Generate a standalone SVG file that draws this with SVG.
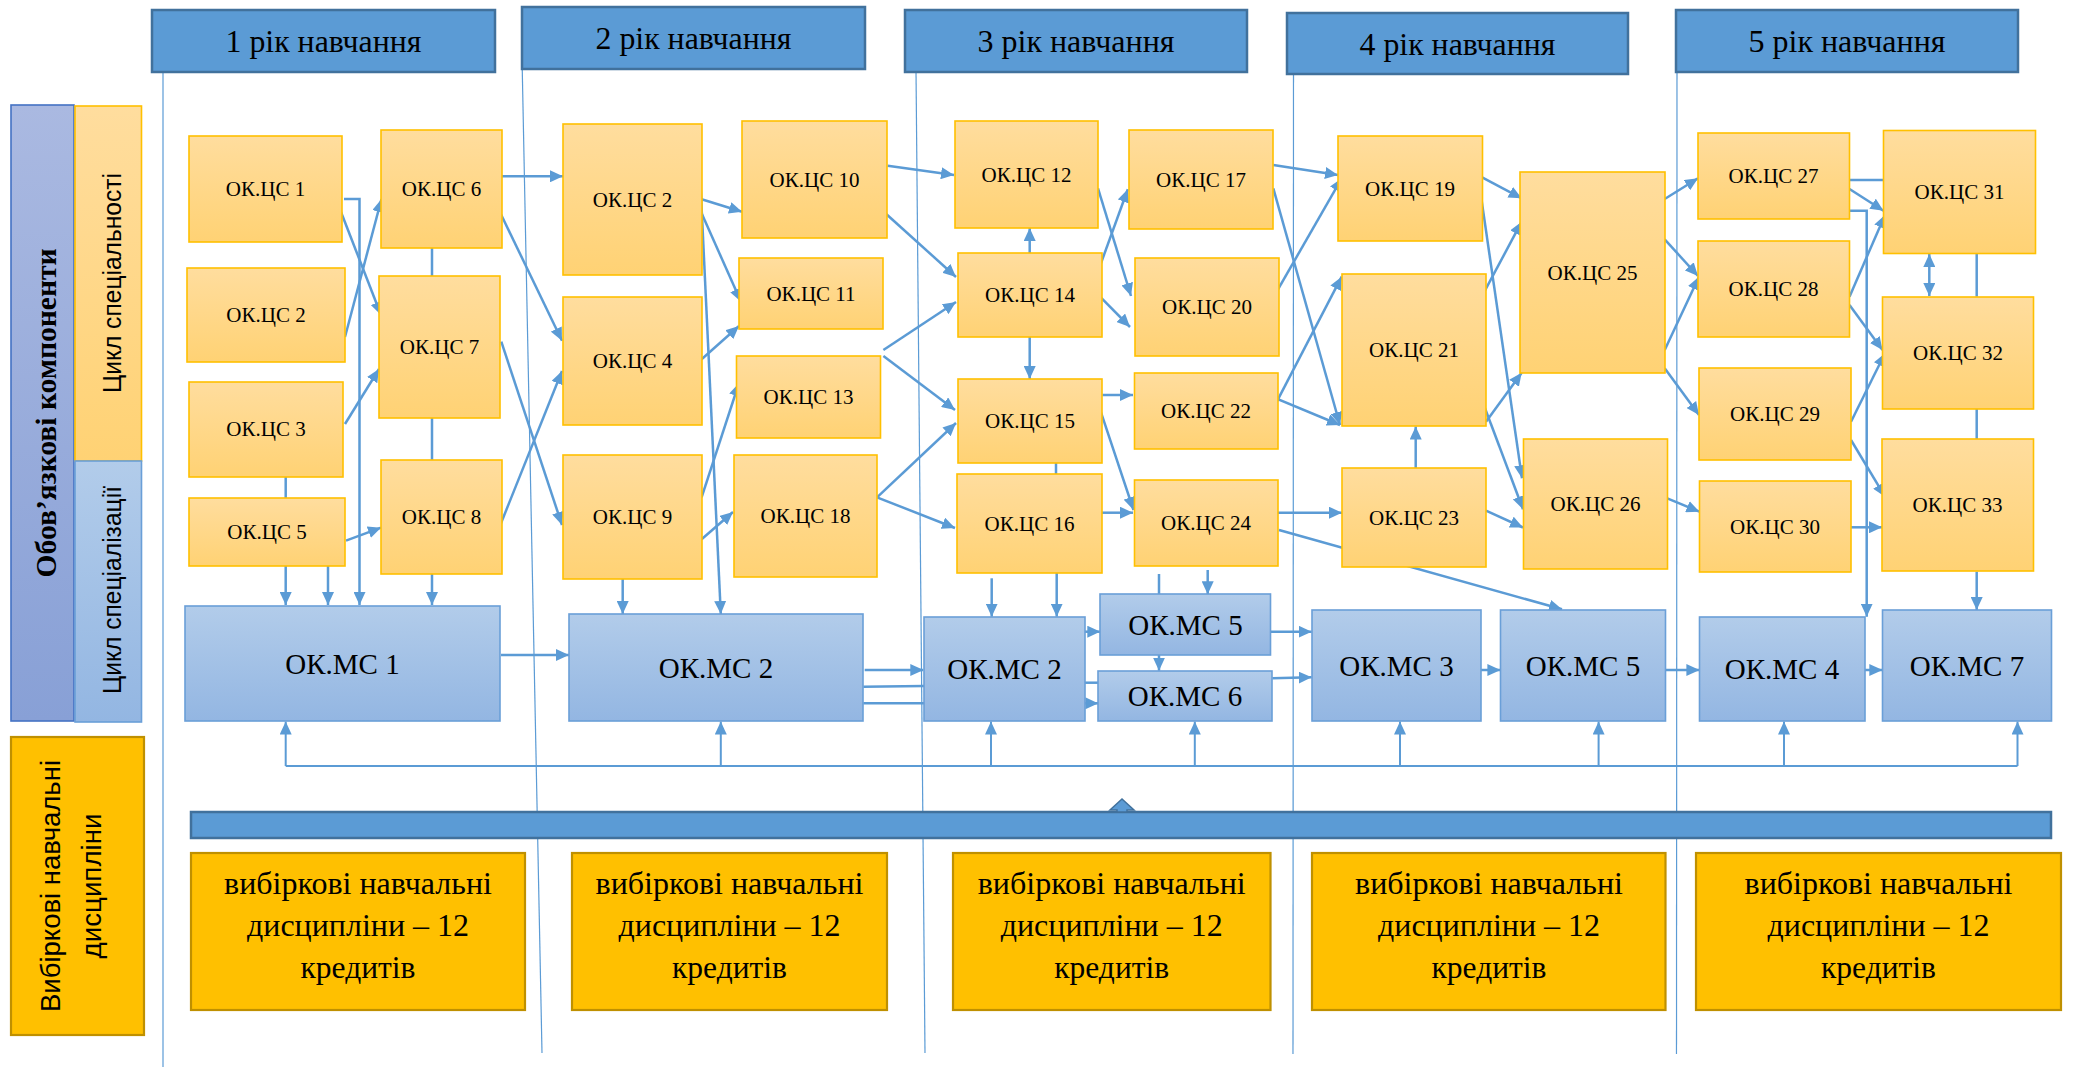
<svg xmlns="http://www.w3.org/2000/svg" width="2073" height="1069" viewBox="0 0 2073 1069">
<style>
.bg{fill:#ffffff}
.col{stroke:#5B9BD5;stroke-width:1.2;fill:none}
.hdr{fill:#5B9BD5;stroke:#41719C;stroke-width:2.5}
.cs{fill:url(#gO);stroke:#FFC000;stroke-width:1.6}
.mc{fill:url(#gB);stroke:#6A9FD8;stroke-width:1.6}
.el{fill:#FFC000;stroke:#BF9000;stroke-width:2.2}
.t{font-family:"Liberation Serif","Times New Roman",serif;fill:#000;text-anchor:middle}
.t21{font-size:21px}
.t29{font-size:29px}
.t31{font-size:31px}
.t32{font-size:32px}
.s{font-family:"Liberation Sans",Arial,sans-serif;fill:#000;text-anchor:middle}
.c{stroke:#5B9BD5;stroke-width:2.5;fill:none}
.a{marker-end:url(#ah)}
.fb{stroke:#5B9BD5;stroke-width:2;fill:none}
</style>
<defs>
<linearGradient id="gO" x1="0" y1="0" x2="0" y2="1"><stop offset="0" stop-color="#FFDD9E"/><stop offset="1" stop-color="#FFD274"/></linearGradient>
<linearGradient id="gB" x1="0" y1="0" x2="0" y2="1"><stop offset="0" stop-color="#B2CCEA"/><stop offset="1" stop-color="#93B6E2"/></linearGradient>
<linearGradient id="gP" x1="0" y1="0" x2="0" y2="1"><stop offset="0" stop-color="#AAB9E1"/><stop offset="1" stop-color="#88A0D6"/></linearGradient>
<marker id="ah" viewBox="0 0 13 12" refX="13" refY="6" markerWidth="13" markerHeight="12" markerUnits="userSpaceOnUse" orient="auto"><path d="M0,0 L13,6 L0,12 z" fill="#5B9BD5"/></marker>
<marker id="ah2" viewBox="0 0 13 12" refX="13" refY="6" markerWidth="13" markerHeight="12" markerUnits="userSpaceOnUse" orient="auto-start-reverse"><path d="M0,0 L13,6 L0,12 z" fill="#5B9BD5"/></marker>
</defs>
<rect class="bg" x="0" y="0" width="2073" height="1069"/>

<g id="columns">
<line class="col" x1="163" y1="72" x2="163" y2="1067"/>
<line class="col" x1="522" y1="57" x2="542" y2="1053"/>
<line class="col" x1="916" y1="70" x2="925" y2="1053"/>
<line class="col" x1="1293.5" y1="75" x2="1293" y2="1054"/>
<line class="col" x1="1677" y1="72" x2="1676.5" y2="1054"/>
</g>

<g id="headers">
<g id="year1"><rect class="hdr" x="152" y="10" width="343" height="62"/><text class="t t32" x="323.5" y="52" textLength="196" lengthAdjust="spacingAndGlyphs">1 рік навчання</text></g>
<g id="year2"><rect class="hdr" x="522" y="7" width="343" height="62"/><text class="t t32" x="693.5" y="49" textLength="196" lengthAdjust="spacingAndGlyphs">2 рік навчання</text></g>
<g id="year3"><rect class="hdr" x="905" y="10" width="342" height="62"/><text class="t t32" x="1076" y="52" textLength="197" lengthAdjust="spacingAndGlyphs">3 рік навчання</text></g>
<g id="year4"><rect class="hdr" x="1287" y="13" width="341" height="61"/><text class="t t32" x="1457.5" y="54.5" textLength="196" lengthAdjust="spacingAndGlyphs">4 рік навчання</text></g>
<g id="year5"><rect class="hdr" x="1676" y="10" width="342" height="62"/><text class="t t32" x="1847" y="52" textLength="197" lengthAdjust="spacingAndGlyphs">5 рік навчання</text></g>
</g>

<g id="side-labels">
<g id="obov"><rect x="11" y="105" width="63" height="616" fill="url(#gP)" stroke="#4472C4" stroke-width="1.6"/><text class="t" font-size="29" font-weight="bold" transform="translate(56,413) rotate(-90)" x="0" y="0" textLength="329" lengthAdjust="spacingAndGlyphs">Обов’язкові компоненти</text></g>
<g id="cycle-spec"><rect class="cs" x="75" y="106" width="66.5" height="355"/><text class="s" font-size="25" transform="translate(121,283) rotate(-90)" x="0" y="0" textLength="220" lengthAdjust="spacingAndGlyphs">Цикл спеціальності</text></g>
<g id="cycle-specz"><rect class="mc" x="75" y="461" width="66.5" height="261"/><text class="s" font-size="25" transform="translate(121,590) rotate(-90)" x="0" y="0" textLength="208" lengthAdjust="spacingAndGlyphs">Цикл спеціалізації</text></g>
<g id="elective-label"><rect class="el" x="11" y="737" width="133" height="298"/><text class="s" font-size="27" transform="translate(60,886) rotate(-90)" x="0" y="0" textLength="252" lengthAdjust="spacingAndGlyphs">Вибіркові навчальні</text><text class="s" font-size="27" transform="translate(101,886) rotate(-90)" x="0" y="0" textLength="145" lengthAdjust="spacingAndGlyphs">дисципліни</text></g>
</g>

<g id="connectors">
<!-- year 1 -->
<polyline class="c a" points="344,199 359.5,199 359.5,605"/>
<line class="c a" x1="341" y1="212" x2="381" y2="315"/>
<line class="c a" x1="345" y1="337" x2="381.5" y2="199"/>
<line class="c a" x1="345" y1="424" x2="379" y2="369"/>
<line class="c" x1="285.7" y1="477" x2="285.7" y2="498"/>
<line class="c a" x1="346" y1="540.7" x2="381" y2="527.7"/>
<line class="c a" x1="285.7" y1="566" x2="285.7" y2="605"/>
<line class="c a" x1="328" y1="566" x2="328" y2="605"/>
<line class="c a" x1="432" y1="574" x2="432" y2="605"/>
<line class="c" x1="432" y1="248" x2="432" y2="276"/>
<line class="c" x1="432" y1="418" x2="432" y2="460"/>
<line class="c a" x1="502" y1="176.3" x2="563" y2="176.3"/>
<line class="c a" x1="500" y1="212.3" x2="562" y2="340.7"/>
<line class="c a" x1="501.3" y1="341.7" x2="562" y2="525"/>
<line class="c a" x1="500" y1="525.7" x2="562" y2="371"/>
<line class="c a" x1="501" y1="655" x2="569" y2="655"/>
<!-- year 2 -->
<line class="c a" x1="701.6" y1="199.3" x2="742" y2="211.7"/>
<line class="c a" x1="701.6" y1="213.3" x2="741" y2="301.7"/>
<line class="c a" x1="700.7" y1="188.3" x2="720.8" y2="614"/>
<line class="c a" x1="701.6" y1="359.3" x2="739" y2="326"/>
<line class="c a" x1="701.6" y1="497.3" x2="739" y2="383"/>
<line class="c a" x1="701.6" y1="539.3" x2="733" y2="512"/>
<line class="c a" x1="622.7" y1="579" x2="622.7" y2="614"/>
<line class="c a" x1="887.7" y1="165.7" x2="954" y2="175"/>
<line class="c a" x1="884.8" y1="212.7" x2="956" y2="277"/>
<line class="c a" x1="883.4" y1="350" x2="956" y2="302"/>
<line class="c a" x1="883.4" y1="356" x2="955" y2="410"/>
<line class="c a" x1="877" y1="497.3" x2="956" y2="423"/>
<line class="c a" x1="877" y1="497.3" x2="955" y2="528"/>
<line class="c a" x1="864.7" y1="670" x2="923.3" y2="670"/>
<line class="c" x1="863.3" y1="686.7" x2="924" y2="686"/>
<line class="c" x1="863.3" y1="703.3" x2="924" y2="703.3"/>
<!-- year 3 -->
<line class="c a" x1="1029.7" y1="253.3" x2="1029.7" y2="228"/>
<line class="c a" x1="1029.7" y1="337" x2="1029.7" y2="379"/>
<line class="c a" x1="1096.7" y1="275" x2="1127.8" y2="189.3"/>
<line class="c a" x1="1098" y1="188.3" x2="1131" y2="296"/>
<line class="c a" x1="1101" y1="297.7" x2="1130" y2="327"/>
<line class="c a" x1="1102.4" y1="395" x2="1133" y2="395"/>
<line class="c a" x1="1100" y1="409.3" x2="1133.5" y2="510"/>
<line class="c" x1="1056" y1="463" x2="1056" y2="474.5"/>
<line class="c a" x1="1101.5" y1="512.7" x2="1133" y2="512.7"/>
<line class="c a" x1="991.7" y1="578.3" x2="991.7" y2="616.7"/>
<line class="c a" x1="1056.7" y1="573" x2="1056.7" y2="616.7"/>
<line class="c" x1="1159" y1="574" x2="1159" y2="594.3"/>
<line class="c a" x1="1207.7" y1="570" x2="1207.7" y2="594.3"/>
<line class="c a" x1="1159" y1="655" x2="1159" y2="670.7"/>
<line class="c a" x1="1085" y1="631.7" x2="1100.3" y2="631.7"/>
<line class="c" x1="1085" y1="682.7" x2="1098.3" y2="682.7"/>
<line class="c a" x1="1085" y1="703.3" x2="1098.3" y2="703.3"/>
<line class="c a" x1="1273.3" y1="165" x2="1338" y2="175"/>
<line class="c a" x1="1273.3" y1="188.3" x2="1340" y2="425"/>
<line class="c a" x1="1270" y1="303.3" x2="1341.7" y2="178.3"/>
<line class="c a" x1="1273.3" y1="408.3" x2="1341.7" y2="276.7"/>
<line class="c a" x1="1270" y1="396" x2="1340" y2="425"/>
<line class="c a" x1="1278" y1="512.7" x2="1342" y2="512.7"/>
<line class="c a" x1="1279" y1="530" x2="1562" y2="609.3"/>
<line class="c a" x1="1415.7" y1="468" x2="1415.7" y2="426.5"/>
<line class="c a" x1="1486" y1="510.7" x2="1523" y2="527.5"/>
<line class="c a" x1="1481.7" y1="296.7" x2="1521.7" y2="221.7"/>
<line class="c a" x1="1485" y1="408.3" x2="1523" y2="509.3"/>
<line class="c a" x1="1480.7" y1="176.7" x2="1521.7" y2="198.3"/>
<line class="c a" x1="1480" y1="189.3" x2="1522" y2="478.3"/>
<line class="c a" x1="1486" y1="421.7" x2="1521.7" y2="372.7"/>
<line class="c a" x1="1270.7" y1="631.7" x2="1311.7" y2="631.7"/>
<line class="c a" x1="1272.3" y1="678.3" x2="1311.7" y2="677.3"/>
<line class="c a" x1="1481" y1="670" x2="1500.4" y2="670"/>
<line class="c a" x1="1665.7" y1="670" x2="1699.4" y2="670"/>
<line class="c a" x1="1865" y1="670" x2="1882.3" y2="670"/>
<!-- year 5 -->
<line class="c a" x1="1664.7" y1="199" x2="1698" y2="178.3"/>
<line class="c a" x1="1664.7" y1="239.3" x2="1698" y2="276"/>
<line class="c a" x1="1664.7" y1="368.3" x2="1699" y2="415"/>
<line class="c a" x1="1667.3" y1="498.3" x2="1699.4" y2="511.7"/>
<line class="c a" x1="1664.7" y1="350" x2="1699" y2="276.7"/>
<line class="c" x1="1849.5" y1="180" x2="1883.5" y2="180"/>
<line class="c a" x1="1849.5" y1="189" x2="1883.5" y2="210.7"/>
<polyline class="c a" points="1849.5,210.7 1866.7,210.7 1866.7,616.7"/>
<line class="c a" x1="1849.5" y1="296.7" x2="1885" y2="215"/>
<line class="c a" x1="1849.5" y1="305" x2="1882.5" y2="350"/>
<line class="c a" x1="1851" y1="421.7" x2="1885" y2="353.3"/>
<line class="c" x1="1929.3" y1="254" x2="1929.3" y2="296" marker-start="url(#ah2)" marker-end="url(#ah2)"/>
<line class="c" x1="1976.7" y1="253.3" x2="1976.7" y2="296.7"/>
<line class="c" x1="1976.7" y1="408.7" x2="1976.7" y2="439.3"/>
<line class="c a" x1="1851" y1="440" x2="1885" y2="496.7"/>
<line class="c a" x1="1851" y1="527.3" x2="1882" y2="527.3"/>
<line class="c a" x1="1976.7" y1="571.7" x2="1976.7" y2="610"/>
<!-- feedback from electives -->
<polyline class="fb" points="285.7,766 2017.5,766"/>
<line class="fb a" x1="285.7" y1="766" x2="285.7" y2="721.5"/>
<line class="fb a" x1="720.8" y1="766" x2="720.8" y2="721.5"/>
<line class="fb a" x1="991" y1="766" x2="991" y2="721.5"/>
<line class="fb a" x1="1194.8" y1="766" x2="1194.8" y2="721.5"/>
<line class="fb a" x1="1400" y1="766" x2="1400" y2="721.5"/>
<line class="fb a" x1="1598.6" y1="766" x2="1598.6" y2="721.5"/>
<line class="fb a" x1="1784" y1="766" x2="1784" y2="721.5"/>
<line class="fb a" x1="2017.5" y1="766" x2="2017.5" y2="721.5"/>
</g>

<g id="nodes">
<g id="cs1"><rect class="cs" x="189" y="136" width="153" height="106"/><text class="t t21" x="265.5" y="196">ОК.ЦС 1</text></g>
<g id="cs2a"><rect class="cs" x="187" y="268" width="158" height="94"/><text class="t t21" x="266" y="322">ОК.ЦС 2</text></g>
<g id="cs3"><rect class="cs" x="189" y="382" width="154" height="95"/><text class="t t21" x="266" y="436">ОК.ЦС 3</text></g>
<g id="cs5"><rect class="cs" x="189" y="498" width="156" height="68"/><text class="t t21" x="267" y="539">ОК.ЦС 5</text></g>
<g id="cs6"><rect class="cs" x="381" y="130" width="121" height="118"/><text class="t t21" x="441.5" y="196">ОК.ЦС 6</text></g>
<g id="cs7"><rect class="cs" x="379" y="276" width="121" height="142"/><text class="t t21" x="439.5" y="354">ОК.ЦС 7</text></g>
<g id="cs8"><rect class="cs" x="381" y="460" width="121" height="114"/><text class="t t21" x="441.5" y="524">ОК.ЦС 8</text></g>
<g id="cs2b"><rect class="cs" x="563" y="124" width="139" height="151"/><text class="t t21" x="632.5" y="206.5">ОК.ЦС 2</text></g>
<g id="cs4"><rect class="cs" x="563" y="297" width="139" height="128"/><text class="t t21" x="632.5" y="368">ОК.ЦС 4</text></g>
<g id="cs9"><rect class="cs" x="563" y="455" width="139" height="124"/><text class="t t21" x="632.5" y="524">ОК.ЦС 9</text></g>
<g id="cs10"><rect class="cs" x="742" y="121" width="145" height="117"/><text class="t t21" x="814.5" y="186.5">ОК.ЦС 10</text></g>
<g id="cs11"><rect class="cs" x="739" y="258" width="144" height="71"/><text class="t t21" x="811" y="300.5">ОК.ЦС 11</text></g>
<g id="cs13"><rect class="cs" x="736.5" y="356" width="144" height="82"/><text class="t t21" x="808.5" y="404">ОК.ЦС 13</text></g>
<g id="cs18"><rect class="cs" x="734" y="455" width="143" height="122"/><text class="t t21" x="805.5" y="523">ОК.ЦС 18</text></g>
<g id="cs12"><rect class="cs" x="955" y="121" width="143" height="107"/><text class="t t21" x="1026.5" y="181.5">ОК.ЦС 12</text></g>
<g id="cs14"><rect class="cs" x="958" y="253" width="144" height="84"/><text class="t t21" x="1030" y="302">ОК.ЦС 14</text></g>
<g id="cs15"><rect class="cs" x="958" y="379" width="144" height="84"/><text class="t t21" x="1030" y="428">ОК.ЦС 15</text></g>
<g id="cs16"><rect class="cs" x="957" y="474" width="145" height="99"/><text class="t t21" x="1029.5" y="530.5">ОК.ЦС 16</text></g>
<g id="cs17"><rect class="cs" x="1129" y="130" width="144" height="99"/><text class="t t21" x="1201" y="186.5">ОК.ЦС 17</text></g>
<g id="cs20"><rect class="cs" x="1135" y="258" width="144" height="98"/><text class="t t21" x="1207" y="314">ОК.ЦС 20</text></g>
<g id="cs22"><rect class="cs" x="1134.5" y="373" width="143.5" height="76"/><text class="t t21" x="1206" y="418">ОК.ЦС 22</text></g>
<g id="cs24"><rect class="cs" x="1134.5" y="480" width="143.5" height="86"/><text class="t t21" x="1206" y="530">ОК.ЦС 24</text></g>
<g id="cs19"><rect class="cs" x="1338" y="136" width="144.5" height="105"/><text class="t t21" x="1410" y="195.5">ОК.ЦС 19</text></g>
<g id="cs21"><rect class="cs" x="1342" y="274" width="144" height="152"/><text class="t t21" x="1414" y="357">ОК.ЦС 21</text></g>
<g id="cs23"><rect class="cs" x="1342" y="468" width="144" height="99"/><text class="t t21" x="1414" y="524.5">ОК.ЦС 23</text></g>
<g id="cs25"><rect class="cs" x="1520" y="172" width="145" height="201"/><text class="t t21" x="1592.5" y="279.5">ОК.ЦС 25</text></g>
<g id="cs26"><rect class="cs" x="1523.5" y="439" width="144" height="130"/><text class="t t21" x="1595.5" y="511">ОК.ЦС 26</text></g>
<g id="cs27"><rect class="cs" x="1698" y="133" width="151.5" height="86"/><text class="t t21" x="1773.5" y="183">ОК.ЦС 27</text></g>
<g id="cs28"><rect class="cs" x="1698" y="241" width="151.5" height="96"/><text class="t t21" x="1773.5" y="296">ОК.ЦС 28</text></g>
<g id="cs29"><rect class="cs" x="1699" y="368" width="152" height="92"/><text class="t t21" x="1775" y="421">ОК.ЦС 29</text></g>
<g id="cs30"><rect class="cs" x="1699.5" y="481" width="151.5" height="91"/><text class="t t21" x="1775" y="533.5">ОК.ЦС 30</text></g>
<g id="cs31"><rect class="cs" x="1883.5" y="130.5" width="152" height="123"/><text class="t t21" x="1959.5" y="199">ОК.ЦС 31</text></g>
<g id="cs32"><rect class="cs" x="1882.5" y="297" width="151" height="112"/><text class="t t21" x="1958" y="360">ОК.ЦС 32</text></g>
<g id="cs33"><rect class="cs" x="1882" y="439" width="151.5" height="132"/><text class="t t21" x="1957.5" y="512">ОК.ЦС 33</text></g>

<g id="mc1"><rect class="mc" x="185" y="606" width="315" height="115"/><text class="t t29" x="342.5" y="673.5">ОК.МС 1</text></g>
<g id="mc2a"><rect class="mc" x="569" y="614" width="294" height="107"/><text class="t t29" x="716" y="677.5">ОК.МС 2</text></g>
<g id="mc2b"><rect class="mc" x="924" y="617" width="161" height="104"/><text class="t t29" x="1004.5" y="679">ОК.МС 2</text></g>
<g id="mc5a"><rect class="mc" x="1100" y="594" width="170.5" height="61"/><text class="t t29" x="1185.5" y="634.5">ОК.МС 5</text></g>
<g id="mc6"><rect class="mc" x="1098" y="671" width="174" height="50"/><text class="t t29" x="1185" y="706">ОК.МС 6</text></g>
<g id="mc3"><rect class="mc" x="1312" y="610" width="169" height="111"/><text class="t t29" x="1396.5" y="675.5">ОК.МС 3</text></g>
<g id="mc5b"><rect class="mc" x="1500.5" y="610" width="165" height="111"/><text class="t t29" x="1583" y="675.5">ОК.МС 5</text></g>
<g id="mc4"><rect class="mc" x="1699.5" y="617" width="165.5" height="104"/><text class="t t29" x="1782" y="679">ОК.МС 4</text></g>
<g id="mc7"><rect class="mc" x="1882.5" y="610" width="169" height="111"/><text class="t t29" x="1967" y="675.5">ОК.МС 7</text></g>
</g>

<g id="elective-bar">
<rect x="191" y="812" width="1860" height="26" fill="#5B9BD5" stroke="#41719C" stroke-width="2.5"/>
<path d="M1117,812 L1117,810 L1110,810 L1122,799 L1134,810 L1127,810 L1127,812 z" fill="#5B9BD5" stroke="#41719C" stroke-width="1.5"/>
</g>

<g id="electives">
<g id="el1"><rect class="el" x="191" y="853" width="334" height="157"/><text class="t t31" x="358" y="894" textLength="268" lengthAdjust="spacingAndGlyphs">вибіркові навчальні</text><text class="t t31" x="358" y="936" textLength="222" lengthAdjust="spacingAndGlyphs">дисципліни – 12</text><text class="t t31" x="358" y="978" textLength="115" lengthAdjust="spacingAndGlyphs">кредитів</text></g>
<g id="el2"><rect class="el" x="572" y="853" width="315" height="157"/><text class="t t31" x="729.5" y="894" textLength="268" lengthAdjust="spacingAndGlyphs">вибіркові навчальні</text><text class="t t31" x="729.5" y="936" textLength="222" lengthAdjust="spacingAndGlyphs">дисципліни – 12</text><text class="t t31" x="729.5" y="978" textLength="115" lengthAdjust="spacingAndGlyphs">кредитів</text></g>
<g id="el3"><rect class="el" x="953" y="853" width="317.5" height="157"/><text class="t t31" x="1111.7" y="894" textLength="268" lengthAdjust="spacingAndGlyphs">вибіркові навчальні</text><text class="t t31" x="1111.7" y="936" textLength="222" lengthAdjust="spacingAndGlyphs">дисципліни – 12</text><text class="t t31" x="1111.7" y="978" textLength="115" lengthAdjust="spacingAndGlyphs">кредитів</text></g>
<g id="el4"><rect class="el" x="1312" y="853" width="353.5" height="157"/><text class="t t31" x="1489" y="894" textLength="268" lengthAdjust="spacingAndGlyphs">вибіркові навчальні</text><text class="t t31" x="1489" y="936" textLength="222" lengthAdjust="spacingAndGlyphs">дисципліни – 12</text><text class="t t31" x="1489" y="978" textLength="115" lengthAdjust="spacingAndGlyphs">кредитів</text></g>
<g id="el5"><rect class="el" x="1696" y="853" width="365" height="157"/><text class="t t31" x="1878.5" y="894" textLength="268" lengthAdjust="spacingAndGlyphs">вибіркові навчальні</text><text class="t t31" x="1878.5" y="936" textLength="222" lengthAdjust="spacingAndGlyphs">дисципліни – 12</text><text class="t t31" x="1878.5" y="978" textLength="115" lengthAdjust="spacingAndGlyphs">кредитів</text></g>
</g>
</svg>
